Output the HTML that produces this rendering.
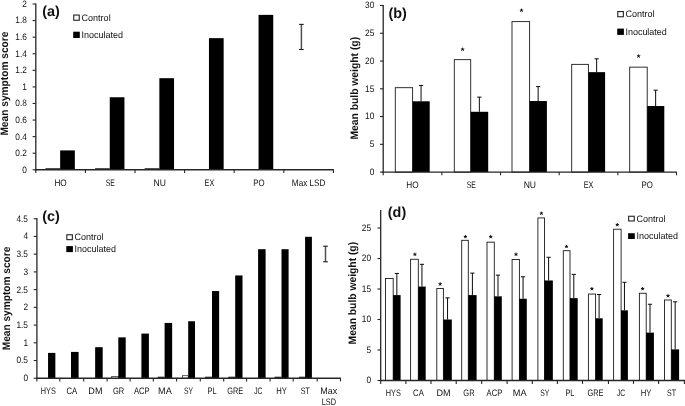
<!DOCTYPE html>
<html><head><meta charset="utf-8"><title>Figure</title>
<style>html,body{margin:0;padding:0;background:#fff;}body{width:685px;height:406px;overflow:hidden;}svg{display:block;will-change:transform;font-family:"Liberation Sans",sans-serif;fill:#111;text-rendering:geometricPrecision;}</style></head>
<body>
<svg width="685" height="406" viewBox="0 0 685 406">
<rect x="0" y="0" width="685" height="406" fill="#fff"/>
<rect x="45.45" y="168.25" width="14.70" height="1.20" fill="#1a1a1a"/>
<rect x="60.15" y="150.40" width="14.70" height="19.40" fill="#000"/>
<rect x="95.05" y="168.25" width="14.70" height="1.20" fill="#1a1a1a"/>
<rect x="109.75" y="97.26" width="14.70" height="72.54" fill="#000"/>
<rect x="144.65" y="168.25" width="14.70" height="1.20" fill="#1a1a1a"/>
<rect x="159.35" y="78.20" width="14.70" height="91.60" fill="#000"/>
<rect x="208.95" y="38.15" width="14.70" height="131.65" fill="#000"/>
<rect x="258.55" y="14.86" width="14.70" height="154.94" fill="#000"/>
<line x1="35.80" y1="3.40" x2="35.80" y2="170.45" stroke="#262626" stroke-width="1.3"/>
<line x1="35.15" y1="169.80" x2="333.90" y2="169.80" stroke="#262626" stroke-width="1.45"/>
<line x1="32.60" y1="169.80" x2="35.80" y2="169.80" stroke="#262626" stroke-width="1.1"/>
<text x="26.90" y="172.70" text-anchor="end" font-size="9.4" textLength="4.62" lengthAdjust="spacingAndGlyphs">0</text>
<line x1="32.60" y1="153.22" x2="35.80" y2="153.22" stroke="#262626" stroke-width="1.1"/>
<text x="26.90" y="156.12" text-anchor="end" font-size="9.4" textLength="11.55" lengthAdjust="spacingAndGlyphs">0.2</text>
<line x1="32.60" y1="136.64" x2="35.80" y2="136.64" stroke="#262626" stroke-width="1.1"/>
<text x="26.90" y="139.54" text-anchor="end" font-size="9.4" textLength="11.55" lengthAdjust="spacingAndGlyphs">0.4</text>
<line x1="32.60" y1="120.06" x2="35.80" y2="120.06" stroke="#262626" stroke-width="1.1"/>
<text x="26.90" y="122.96" text-anchor="end" font-size="9.4" textLength="11.55" lengthAdjust="spacingAndGlyphs">0.6</text>
<line x1="32.60" y1="103.48" x2="35.80" y2="103.48" stroke="#262626" stroke-width="1.1"/>
<text x="26.90" y="106.38" text-anchor="end" font-size="9.4" textLength="11.55" lengthAdjust="spacingAndGlyphs">0.8</text>
<line x1="32.60" y1="86.90" x2="35.80" y2="86.90" stroke="#262626" stroke-width="1.1"/>
<text x="26.90" y="89.80" text-anchor="end" font-size="9.4" textLength="4.62" lengthAdjust="spacingAndGlyphs">1</text>
<line x1="32.60" y1="70.32" x2="35.80" y2="70.32" stroke="#262626" stroke-width="1.1"/>
<text x="26.90" y="73.22" text-anchor="end" font-size="9.4" textLength="11.55" lengthAdjust="spacingAndGlyphs">1.2</text>
<line x1="32.60" y1="53.74" x2="35.80" y2="53.74" stroke="#262626" stroke-width="1.1"/>
<text x="26.90" y="56.64" text-anchor="end" font-size="9.4" textLength="11.55" lengthAdjust="spacingAndGlyphs">1.4</text>
<line x1="32.60" y1="37.16" x2="35.80" y2="37.16" stroke="#262626" stroke-width="1.1"/>
<text x="26.90" y="40.06" text-anchor="end" font-size="9.4" textLength="11.55" lengthAdjust="spacingAndGlyphs">1.6</text>
<line x1="32.60" y1="20.58" x2="35.80" y2="20.58" stroke="#262626" stroke-width="1.1"/>
<text x="26.90" y="23.48" text-anchor="end" font-size="9.4" textLength="11.55" lengthAdjust="spacingAndGlyphs">1.8</text>
<line x1="32.60" y1="4.00" x2="35.80" y2="4.00" stroke="#262626" stroke-width="1.1"/>
<text x="26.90" y="6.90" text-anchor="end" font-size="9.4" textLength="4.62" lengthAdjust="spacingAndGlyphs">2</text>
<line x1="35.80" y1="169.80" x2="35.80" y2="173.00" stroke="#262626" stroke-width="1.1"/>
<line x1="85.40" y1="169.80" x2="85.40" y2="173.00" stroke="#262626" stroke-width="1.1"/>
<line x1="135.00" y1="169.80" x2="135.00" y2="173.00" stroke="#262626" stroke-width="1.1"/>
<line x1="184.60" y1="169.80" x2="184.60" y2="173.00" stroke="#262626" stroke-width="1.1"/>
<line x1="234.20" y1="169.80" x2="234.20" y2="173.00" stroke="#262626" stroke-width="1.1"/>
<line x1="283.80" y1="169.80" x2="283.80" y2="173.00" stroke="#262626" stroke-width="1.1"/>
<line x1="333.40" y1="169.80" x2="333.40" y2="173.00" stroke="#262626" stroke-width="1.1"/>
<text x="60.60" y="186.00" text-anchor="middle" font-size="9.4" textLength="12.34" lengthAdjust="spacingAndGlyphs">HO</text>
<text x="110.20" y="186.00" text-anchor="middle" font-size="9.4" textLength="9.10" lengthAdjust="spacingAndGlyphs">SE</text>
<text x="159.80" y="186.00" text-anchor="middle" font-size="9.4" textLength="12.36" lengthAdjust="spacingAndGlyphs">NU</text>
<text x="209.40" y="186.00" text-anchor="middle" font-size="9.4" textLength="9.67" lengthAdjust="spacingAndGlyphs">EX</text>
<text x="259.00" y="186.00" text-anchor="middle" font-size="9.4" textLength="11.32" lengthAdjust="spacingAndGlyphs">PO</text>
<text x="308.60" y="186.00" text-anchor="middle" font-size="9.4" textLength="33.49" lengthAdjust="spacingAndGlyphs">Max LSD</text>
<line x1="301.40" y1="24.40" x2="301.40" y2="49.50" stroke="#505050" stroke-width="1.5"/>
<line x1="299.10" y1="24.40" x2="303.70" y2="24.40" stroke="#1a1a1a" stroke-width="1.1"/>
<line x1="299.10" y1="49.50" x2="303.70" y2="49.50" stroke="#1a1a1a" stroke-width="1.1"/>
<text x="42.30" y="16.45" font-size="14.4" font-weight="bold">(a)</text>
<rect x="73.75" y="15.05" width="5.50" height="5.20" fill="#fff" stroke="#222" stroke-width="1.1"/>
<text x="81.60" y="20.70" text-anchor="start" font-size="9.4" textLength="29.05" lengthAdjust="spacingAndGlyphs">Control</text>
<rect x="73.20" y="31.70" width="6.60" height="6.30" fill="#000"/>
<text x="81.60" y="37.90" text-anchor="start" font-size="9.4" textLength="41.47" lengthAdjust="spacingAndGlyphs">Inoculated</text>
<text transform="translate(8.20,135.60) rotate(-90)" font-size="10.8" font-weight="bold" textLength="104.00" lengthAdjust="spacingAndGlyphs">Mean symptom score</text>
<rect x="395.30" y="87.69" width="17.30" height="84.41" fill="#fff" stroke="#1a1a1a" stroke-width="0.9"/>
<rect x="412.60" y="101.30" width="17.10" height="70.80" fill="#000"/>
<line x1="421.05" y1="101.30" x2="421.05" y2="85.47" stroke="#0a0a0a" stroke-width="1.0"/>
<line x1="418.95" y1="85.47" x2="423.15" y2="85.47" stroke="#0a0a0a" stroke-width="1.0"/>
<rect x="454.30" y="59.65" width="16.40" height="112.45" fill="#fff" stroke="#1a1a1a" stroke-width="0.9"/>
<rect x="470.70" y="111.79" width="17.50" height="60.31" fill="#000"/>
<line x1="479.35" y1="111.79" x2="479.35" y2="97.13" stroke="#0a0a0a" stroke-width="1.0"/>
<line x1="477.25" y1="97.13" x2="481.45" y2="97.13" stroke="#0a0a0a" stroke-width="1.0"/>
<path d="M462.60 49.40L462.60 48.05M462.60 49.40L463.88 48.98M462.60 49.40L463.39 50.49M462.60 49.40L461.81 50.49M462.60 49.40L461.32 48.98" stroke="#111" stroke-width="1.0" stroke-linecap="round" fill="none"/>
<rect x="512.00" y="21.61" width="17.60" height="150.49" fill="#fff" stroke="#1a1a1a" stroke-width="0.9"/>
<rect x="529.60" y="101.02" width="17.30" height="71.08" fill="#000"/>
<line x1="538.15" y1="101.02" x2="538.15" y2="86.58" stroke="#0a0a0a" stroke-width="1.0"/>
<line x1="536.05" y1="86.58" x2="540.25" y2="86.58" stroke="#0a0a0a" stroke-width="1.0"/>
<path d="M521.50 10.40L521.50 9.05M521.50 10.40L522.78 9.98M521.50 10.40L522.29 11.49M521.50 10.40L520.71 11.49M521.50 10.40L520.22 9.98" stroke="#111" stroke-width="1.0" stroke-linecap="round" fill="none"/>
<rect x="571.70" y="64.37" width="16.70" height="107.73" fill="#fff" stroke="#1a1a1a" stroke-width="0.9"/>
<rect x="588.40" y="72.15" width="16.70" height="99.95" fill="#000"/>
<line x1="596.65" y1="72.15" x2="596.65" y2="58.82" stroke="#0a0a0a" stroke-width="1.0"/>
<line x1="594.55" y1="58.82" x2="598.75" y2="58.82" stroke="#0a0a0a" stroke-width="1.0"/>
<rect x="629.70" y="67.15" width="17.50" height="104.95" fill="#fff" stroke="#1a1a1a" stroke-width="0.9"/>
<rect x="647.20" y="106.02" width="17.10" height="66.08" fill="#000"/>
<line x1="655.65" y1="106.02" x2="655.65" y2="90.19" stroke="#0a0a0a" stroke-width="1.0"/>
<line x1="653.55" y1="90.19" x2="657.75" y2="90.19" stroke="#0a0a0a" stroke-width="1.0"/>
<path d="M638.60 56.20L638.60 54.85M638.60 56.20L639.88 55.78M638.60 56.20L639.39 57.29M638.60 56.20L637.81 57.29M638.60 56.20L637.32 55.78" stroke="#111" stroke-width="1.0" stroke-linecap="round" fill="none"/>
<line x1="383.20" y1="4.91" x2="383.20" y2="172.75" stroke="#262626" stroke-width="1.3"/>
<line x1="382.55" y1="172.10" x2="677.00" y2="172.10" stroke="#262626" stroke-width="1.45"/>
<line x1="380.00" y1="172.10" x2="383.20" y2="172.10" stroke="#262626" stroke-width="1.1"/>
<text x="374.30" y="175.00" text-anchor="end" font-size="9.4" textLength="4.62" lengthAdjust="spacingAndGlyphs">0</text>
<line x1="380.00" y1="144.33" x2="383.20" y2="144.33" stroke="#262626" stroke-width="1.1"/>
<text x="374.30" y="147.23" text-anchor="end" font-size="9.4" textLength="4.62" lengthAdjust="spacingAndGlyphs">5</text>
<line x1="380.00" y1="116.57" x2="383.20" y2="116.57" stroke="#262626" stroke-width="1.1"/>
<text x="374.30" y="119.47" text-anchor="end" font-size="9.4" textLength="9.24" lengthAdjust="spacingAndGlyphs">10</text>
<line x1="380.00" y1="88.80" x2="383.20" y2="88.80" stroke="#262626" stroke-width="1.1"/>
<text x="374.30" y="91.70" text-anchor="end" font-size="9.4" textLength="9.24" lengthAdjust="spacingAndGlyphs">15</text>
<line x1="380.00" y1="61.04" x2="383.20" y2="61.04" stroke="#262626" stroke-width="1.1"/>
<text x="374.30" y="63.94" text-anchor="end" font-size="9.4" textLength="9.24" lengthAdjust="spacingAndGlyphs">20</text>
<line x1="380.00" y1="33.28" x2="383.20" y2="33.28" stroke="#262626" stroke-width="1.1"/>
<text x="374.30" y="36.18" text-anchor="end" font-size="9.4" textLength="9.24" lengthAdjust="spacingAndGlyphs">25</text>
<line x1="380.00" y1="5.51" x2="383.20" y2="5.51" stroke="#262626" stroke-width="1.1"/>
<text x="374.30" y="8.41" text-anchor="end" font-size="9.4" textLength="9.24" lengthAdjust="spacingAndGlyphs">30</text>
<line x1="383.20" y1="172.10" x2="383.20" y2="175.30" stroke="#262626" stroke-width="1.1"/>
<line x1="441.86" y1="172.10" x2="441.86" y2="175.30" stroke="#262626" stroke-width="1.1"/>
<line x1="500.52" y1="172.10" x2="500.52" y2="175.30" stroke="#262626" stroke-width="1.1"/>
<line x1="559.18" y1="172.10" x2="559.18" y2="175.30" stroke="#262626" stroke-width="1.1"/>
<line x1="617.84" y1="172.10" x2="617.84" y2="175.30" stroke="#262626" stroke-width="1.1"/>
<line x1="676.50" y1="172.10" x2="676.50" y2="175.30" stroke="#262626" stroke-width="1.1"/>
<text x="412.53" y="188.20" text-anchor="middle" font-size="9.4" textLength="12.34" lengthAdjust="spacingAndGlyphs">HO</text>
<text x="471.19" y="188.20" text-anchor="middle" font-size="9.4" textLength="9.10" lengthAdjust="spacingAndGlyphs">SE</text>
<text x="529.85" y="188.20" text-anchor="middle" font-size="9.4" textLength="12.36" lengthAdjust="spacingAndGlyphs">NU</text>
<text x="588.51" y="188.20" text-anchor="middle" font-size="9.4" textLength="9.67" lengthAdjust="spacingAndGlyphs">EX</text>
<text x="647.17" y="188.20" text-anchor="middle" font-size="9.4" textLength="11.32" lengthAdjust="spacingAndGlyphs">PO</text>
<text x="388.50" y="17.50" font-size="14.4" font-weight="bold">(b)</text>
<rect x="617.75" y="11.55" width="5.60" height="5.20" fill="#fff" stroke="#222" stroke-width="1.1"/>
<text x="625.40" y="16.95" text-anchor="start" font-size="9.4" textLength="29.05" lengthAdjust="spacingAndGlyphs">Control</text>
<rect x="617.20" y="28.60" width="6.70" height="6.30" fill="#000"/>
<text x="625.40" y="34.50" text-anchor="start" font-size="9.4" textLength="41.47" lengthAdjust="spacingAndGlyphs">Inoculated</text>
<text transform="translate(358.20,139.60) rotate(-90)" font-size="10.8" font-weight="bold" textLength="102.70" lengthAdjust="spacingAndGlyphs">Mean bulb weight (g)</text>
<rect x="48.05" y="352.90" width="7.30" height="25.35" fill="#000"/>
<rect x="71.00" y="351.91" width="7.60" height="26.34" fill="#000"/>
<rect x="95.15" y="347.20" width="7.55" height="31.05" fill="#000"/>
<rect x="111.70" y="376.42" width="6.60" height="1.83" fill="#fff" stroke="#222" stroke-width="0.7"/>
<rect x="118.30" y="337.38" width="7.40" height="40.87" fill="#000"/>
<rect x="141.40" y="333.58" width="7.50" height="44.67" fill="#000"/>
<rect x="157.70" y="376.70" width="6.90" height="1.20" fill="#1a1a1a"/>
<rect x="164.60" y="322.95" width="7.55" height="55.30" fill="#000"/>
<rect x="182.50" y="375.71" width="5.70" height="2.54" fill="#fff" stroke="#222" stroke-width="0.7"/>
<rect x="188.20" y="321.25" width="6.80" height="57.00" fill="#000"/>
<rect x="205.10" y="376.70" width="6.90" height="1.20" fill="#1a1a1a"/>
<rect x="212.00" y="291.04" width="7.15" height="87.21" fill="#000"/>
<rect x="228.30" y="376.70" width="6.90" height="1.20" fill="#1a1a1a"/>
<rect x="235.20" y="275.44" width="7.30" height="102.81" fill="#000"/>
<rect x="258.10" y="249.21" width="7.50" height="129.04" fill="#000"/>
<rect x="274.60" y="376.70" width="6.90" height="1.20" fill="#1a1a1a"/>
<rect x="281.50" y="249.21" width="7.10" height="129.04" fill="#000"/>
<rect x="299.10" y="376.70" width="6.00" height="1.20" fill="#1a1a1a"/>
<rect x="305.10" y="236.80" width="6.80" height="141.45" fill="#000"/>
<line x1="36.90" y1="218.12" x2="36.90" y2="378.90" stroke="#262626" stroke-width="1.3"/>
<line x1="36.25" y1="378.25" x2="340.90" y2="378.25" stroke="#262626" stroke-width="1.45"/>
<line x1="33.70" y1="378.25" x2="36.90" y2="378.25" stroke="#262626" stroke-width="1.1"/>
<text x="28.00" y="381.15" text-anchor="end" font-size="9.4" textLength="4.62" lengthAdjust="spacingAndGlyphs">0</text>
<line x1="33.70" y1="360.52" x2="36.90" y2="360.52" stroke="#262626" stroke-width="1.1"/>
<text x="28.00" y="363.42" text-anchor="end" font-size="9.4" textLength="11.55" lengthAdjust="spacingAndGlyphs">0.5</text>
<line x1="33.70" y1="342.80" x2="36.90" y2="342.80" stroke="#262626" stroke-width="1.1"/>
<text x="28.00" y="345.70" text-anchor="end" font-size="9.4" textLength="4.62" lengthAdjust="spacingAndGlyphs">1</text>
<line x1="33.70" y1="325.07" x2="36.90" y2="325.07" stroke="#262626" stroke-width="1.1"/>
<text x="28.00" y="327.97" text-anchor="end" font-size="9.4" textLength="11.55" lengthAdjust="spacingAndGlyphs">1.5</text>
<line x1="33.70" y1="307.35" x2="36.90" y2="307.35" stroke="#262626" stroke-width="1.1"/>
<text x="28.00" y="310.25" text-anchor="end" font-size="9.4" textLength="4.62" lengthAdjust="spacingAndGlyphs">2</text>
<line x1="33.70" y1="289.62" x2="36.90" y2="289.62" stroke="#262626" stroke-width="1.1"/>
<text x="28.00" y="292.52" text-anchor="end" font-size="9.4" textLength="11.55" lengthAdjust="spacingAndGlyphs">2.5</text>
<line x1="33.70" y1="271.90" x2="36.90" y2="271.90" stroke="#262626" stroke-width="1.1"/>
<text x="28.00" y="274.80" text-anchor="end" font-size="9.4" textLength="4.62" lengthAdjust="spacingAndGlyphs">3</text>
<line x1="33.70" y1="254.17" x2="36.90" y2="254.17" stroke="#262626" stroke-width="1.1"/>
<text x="28.00" y="257.07" text-anchor="end" font-size="9.4" textLength="11.55" lengthAdjust="spacingAndGlyphs">3.5</text>
<line x1="33.70" y1="236.45" x2="36.90" y2="236.45" stroke="#262626" stroke-width="1.1"/>
<text x="28.00" y="239.35" text-anchor="end" font-size="9.4" textLength="4.62" lengthAdjust="spacingAndGlyphs">4</text>
<line x1="33.70" y1="218.72" x2="36.90" y2="218.72" stroke="#262626" stroke-width="1.1"/>
<text x="28.00" y="221.62" text-anchor="end" font-size="9.4" textLength="11.55" lengthAdjust="spacingAndGlyphs">4.5</text>
<line x1="36.90" y1="378.25" x2="36.90" y2="381.45" stroke="#262626" stroke-width="1.1"/>
<line x1="59.80" y1="378.25" x2="59.80" y2="381.45" stroke="#262626" stroke-width="1.1"/>
<line x1="83.70" y1="378.25" x2="83.70" y2="381.45" stroke="#262626" stroke-width="1.1"/>
<line x1="107.10" y1="378.25" x2="107.10" y2="381.45" stroke="#262626" stroke-width="1.1"/>
<line x1="130.10" y1="378.25" x2="130.10" y2="381.45" stroke="#262626" stroke-width="1.1"/>
<line x1="153.30" y1="378.25" x2="153.30" y2="381.45" stroke="#262626" stroke-width="1.1"/>
<line x1="176.60" y1="378.25" x2="176.60" y2="381.45" stroke="#262626" stroke-width="1.1"/>
<line x1="200.30" y1="378.25" x2="200.30" y2="381.45" stroke="#262626" stroke-width="1.1"/>
<line x1="223.70" y1="378.25" x2="223.70" y2="381.45" stroke="#262626" stroke-width="1.1"/>
<line x1="246.60" y1="378.25" x2="246.60" y2="381.45" stroke="#262626" stroke-width="1.1"/>
<line x1="270.10" y1="378.25" x2="270.10" y2="381.45" stroke="#262626" stroke-width="1.1"/>
<line x1="293.20" y1="378.25" x2="293.20" y2="381.45" stroke="#262626" stroke-width="1.1"/>
<line x1="317.20" y1="378.25" x2="317.20" y2="381.45" stroke="#262626" stroke-width="1.1"/>
<line x1="340.50" y1="378.25" x2="340.50" y2="381.45" stroke="#262626" stroke-width="1.1"/>
<text x="48.35" y="394.40" text-anchor="middle" font-size="9.4" textLength="15.07" lengthAdjust="spacingAndGlyphs">HYS</text>
<text x="71.75" y="394.40" text-anchor="middle" font-size="9.4" textLength="10.67" lengthAdjust="spacingAndGlyphs">CA</text>
<text x="95.40" y="394.40" text-anchor="middle" font-size="9.4" textLength="14.11" lengthAdjust="spacingAndGlyphs">DM</text>
<text x="118.60" y="394.40" text-anchor="middle" font-size="9.4" textLength="11.27" lengthAdjust="spacingAndGlyphs">GR</text>
<text x="141.70" y="394.40" text-anchor="middle" font-size="9.4" textLength="15.63" lengthAdjust="spacingAndGlyphs">ACP</text>
<text x="164.95" y="394.40" text-anchor="middle" font-size="9.4" textLength="13.76" lengthAdjust="spacingAndGlyphs">MA</text>
<text x="188.45" y="394.40" text-anchor="middle" font-size="9.4" textLength="9.09" lengthAdjust="spacingAndGlyphs">SY</text>
<text x="212.00" y="394.40" text-anchor="middle" font-size="9.4" textLength="9.00" lengthAdjust="spacingAndGlyphs">PL</text>
<text x="235.15" y="394.40" text-anchor="middle" font-size="9.4" textLength="15.96" lengthAdjust="spacingAndGlyphs">GRE</text>
<text x="258.35" y="394.40" text-anchor="middle" font-size="9.4" textLength="8.18" lengthAdjust="spacingAndGlyphs">JC</text>
<text x="281.65" y="394.40" text-anchor="middle" font-size="9.4" textLength="10.66" lengthAdjust="spacingAndGlyphs">HY</text>
<text x="305.20" y="394.40" text-anchor="middle" font-size="9.4" textLength="9.09" lengthAdjust="spacingAndGlyphs">ST</text>
<text x="328.85" y="394.40" text-anchor="middle" font-size="9.4" textLength="16.96" lengthAdjust="spacingAndGlyphs">Max</text>
<text x="328.85" y="405.20" text-anchor="middle" font-size="9.4" textLength="14.35" lengthAdjust="spacingAndGlyphs">LSD</text>
<line x1="325.50" y1="246.20" x2="325.50" y2="261.80" stroke="#505050" stroke-width="1.5"/>
<line x1="323.20" y1="246.20" x2="327.80" y2="246.20" stroke="#1a1a1a" stroke-width="1.1"/>
<line x1="323.20" y1="261.80" x2="327.80" y2="261.80" stroke="#1a1a1a" stroke-width="1.1"/>
<text x="42.30" y="221.00" font-size="14.4" font-weight="bold">(c)</text>
<rect x="66.85" y="234.75" width="5.50" height="4.90" fill="#fff" stroke="#222" stroke-width="1.1"/>
<text x="74.55" y="239.85" text-anchor="start" font-size="9.4" textLength="29.05" lengthAdjust="spacingAndGlyphs">Control</text>
<rect x="66.30" y="246.10" width="6.60" height="6.00" fill="#000"/>
<text x="74.55" y="252.00" text-anchor="start" font-size="9.4" textLength="41.47" lengthAdjust="spacingAndGlyphs">Inoculated</text>
<text transform="translate(9.80,350.30) rotate(-90)" font-size="10.8" font-weight="bold" textLength="103.70" lengthAdjust="spacingAndGlyphs">Mean symptom score</text>
<rect x="385.50" y="278.45" width="7.70" height="102.05" fill="#fff" stroke="#1a1a1a" stroke-width="0.9"/>
<rect x="393.10" y="295.10" width="7.50" height="85.40" fill="#000"/>
<line x1="396.85" y1="295.10" x2="396.85" y2="273.44" stroke="#0a0a0a" stroke-width="1.0"/>
<line x1="394.75" y1="273.44" x2="398.95" y2="273.44" stroke="#0a0a0a" stroke-width="1.0"/>
<rect x="410.60" y="259.29" width="7.70" height="121.21" fill="#fff" stroke="#1a1a1a" stroke-width="0.9"/>
<rect x="418.20" y="286.56" width="7.50" height="93.94" fill="#000"/>
<line x1="421.95" y1="286.56" x2="421.95" y2="264.30" stroke="#0a0a0a" stroke-width="1.0"/>
<line x1="419.85" y1="264.30" x2="424.05" y2="264.30" stroke="#0a0a0a" stroke-width="1.0"/>
<path d="M414.90 254.40L414.90 253.05M414.90 254.40L416.18 253.98M414.90 254.40L415.69 255.49M414.90 254.40L414.11 255.49M414.90 254.40L413.62 253.98" stroke="#111" stroke-width="1.0" stroke-linecap="round" fill="none"/>
<rect x="436.80" y="288.51" width="6.60" height="91.99" fill="#fff" stroke="#1a1a1a" stroke-width="0.9"/>
<rect x="443.30" y="319.50" width="8.50" height="61.00" fill="#000"/>
<line x1="447.55" y1="319.50" x2="447.55" y2="297.85" stroke="#0a0a0a" stroke-width="1.0"/>
<line x1="445.45" y1="297.85" x2="449.65" y2="297.85" stroke="#0a0a0a" stroke-width="1.0"/>
<path d="M440.20 284.10L440.20 282.75M440.20 284.10L441.48 283.68M440.20 284.10L440.99 285.19M440.20 284.10L439.41 285.19M440.20 284.10L438.92 283.68" stroke="#111" stroke-width="1.0" stroke-linecap="round" fill="none"/>
<rect x="461.70" y="240.32" width="6.60" height="140.18" fill="#fff" stroke="#1a1a1a" stroke-width="0.9"/>
<rect x="468.20" y="295.10" width="8.40" height="85.40" fill="#000"/>
<line x1="472.40" y1="295.10" x2="472.40" y2="273.14" stroke="#0a0a0a" stroke-width="1.0"/>
<line x1="470.30" y1="273.14" x2="474.50" y2="273.14" stroke="#0a0a0a" stroke-width="1.0"/>
<path d="M465.40 236.80L465.40 235.45M465.40 236.80L466.68 236.38M465.40 236.80L466.19 237.89M465.40 236.80L464.61 237.89M465.40 236.80L464.12 236.38" stroke="#111" stroke-width="1.0" stroke-linecap="round" fill="none"/>
<rect x="487.00" y="242.15" width="7.30" height="138.35" fill="#fff" stroke="#1a1a1a" stroke-width="0.9"/>
<rect x="494.20" y="296.32" width="7.60" height="84.18" fill="#000"/>
<line x1="498.00" y1="296.32" x2="498.00" y2="275.15" stroke="#0a0a0a" stroke-width="1.0"/>
<line x1="495.90" y1="275.15" x2="500.10" y2="275.15" stroke="#0a0a0a" stroke-width="1.0"/>
<path d="M490.70 236.80L490.70 235.45M490.70 236.80L491.98 236.38M490.70 236.80L491.49 237.89M490.70 236.80L489.91 237.89M490.70 236.80L489.42 236.38" stroke="#111" stroke-width="1.0" stroke-linecap="round" fill="none"/>
<rect x="512.10" y="259.54" width="7.30" height="120.96" fill="#fff" stroke="#1a1a1a" stroke-width="0.9"/>
<rect x="519.30" y="298.76" width="7.50" height="81.74" fill="#000"/>
<line x1="523.05" y1="298.76" x2="523.05" y2="276.80" stroke="#0a0a0a" stroke-width="1.0"/>
<line x1="520.95" y1="276.80" x2="525.15" y2="276.80" stroke="#0a0a0a" stroke-width="1.0"/>
<path d="M516.00 254.40L516.00 253.05M516.00 254.40L517.28 253.98M516.00 254.40L516.79 255.49M516.00 254.40L515.21 255.49M516.00 254.40L514.72 253.98" stroke="#111" stroke-width="1.0" stroke-linecap="round" fill="none"/>
<rect x="537.90" y="217.94" width="6.60" height="162.56" fill="#fff" stroke="#1a1a1a" stroke-width="0.9"/>
<rect x="544.40" y="280.46" width="8.45" height="100.04" fill="#000"/>
<line x1="548.62" y1="280.46" x2="548.62" y2="257.28" stroke="#0a0a0a" stroke-width="1.0"/>
<line x1="546.52" y1="257.28" x2="550.73" y2="257.28" stroke="#0a0a0a" stroke-width="1.0"/>
<path d="M541.40 213.40L541.40 212.05M541.40 213.40L542.68 212.98M541.40 213.40L542.19 214.49M541.40 213.40L540.61 214.49M541.40 213.40L540.12 212.98" stroke="#111" stroke-width="1.0" stroke-linecap="round" fill="none"/>
<rect x="563.30" y="250.69" width="6.70" height="129.81" fill="#fff" stroke="#1a1a1a" stroke-width="0.9"/>
<rect x="569.90" y="298.15" width="7.80" height="82.35" fill="#000"/>
<line x1="573.80" y1="298.15" x2="573.80" y2="274.36" stroke="#0a0a0a" stroke-width="1.0"/>
<line x1="571.70" y1="274.36" x2="575.90" y2="274.36" stroke="#0a0a0a" stroke-width="1.0"/>
<path d="M566.50 246.60L566.50 245.25M566.50 246.60L567.78 246.18M566.50 246.60L567.29 247.69M566.50 246.60L565.71 247.69M566.50 246.60L565.22 246.18" stroke="#111" stroke-width="1.0" stroke-linecap="round" fill="none"/>
<rect x="588.40" y="294.06" width="7.20" height="86.44" fill="#fff" stroke="#1a1a1a" stroke-width="0.9"/>
<rect x="595.50" y="318.28" width="7.20" height="62.22" fill="#000"/>
<line x1="599.10" y1="318.28" x2="599.10" y2="294.49" stroke="#0a0a0a" stroke-width="1.0"/>
<line x1="597.00" y1="294.49" x2="601.20" y2="294.49" stroke="#0a0a0a" stroke-width="1.0"/>
<path d="M591.90 288.80L591.90 287.45M591.90 288.80L593.18 288.38M591.90 288.80L592.69 289.89M591.90 288.80L591.11 289.89M591.90 288.80L590.62 288.38" stroke="#111" stroke-width="1.0" stroke-linecap="round" fill="none"/>
<rect x="613.60" y="229.22" width="7.50" height="151.28" fill="#fff" stroke="#1a1a1a" stroke-width="0.9"/>
<rect x="621.00" y="310.35" width="6.90" height="70.15" fill="#000"/>
<line x1="624.45" y1="310.35" x2="624.45" y2="282.29" stroke="#0a0a0a" stroke-width="1.0"/>
<line x1="622.35" y1="282.29" x2="626.55" y2="282.29" stroke="#0a0a0a" stroke-width="1.0"/>
<path d="M617.30 224.80L617.30 223.45M617.30 224.80L618.58 224.38M617.30 224.80L618.09 225.89M617.30 224.80L616.51 225.89M617.30 224.80L616.02 224.38" stroke="#111" stroke-width="1.0" stroke-linecap="round" fill="none"/>
<rect x="639.40" y="293.27" width="6.80" height="87.23" fill="#fff" stroke="#1a1a1a" stroke-width="0.9"/>
<rect x="646.10" y="332.62" width="7.80" height="47.88" fill="#000"/>
<line x1="650.00" y1="332.62" x2="650.00" y2="304.25" stroke="#0a0a0a" stroke-width="1.0"/>
<line x1="647.90" y1="304.25" x2="652.10" y2="304.25" stroke="#0a0a0a" stroke-width="1.0"/>
<path d="M642.60 288.80L642.60 287.45M642.60 288.80L643.88 288.38M642.60 288.80L643.39 289.89M642.60 288.80L641.81 289.89M642.60 288.80L641.32 288.38" stroke="#111" stroke-width="1.0" stroke-linecap="round" fill="none"/>
<rect x="664.50" y="299.98" width="6.80" height="80.52" fill="#fff" stroke="#1a1a1a" stroke-width="0.9"/>
<rect x="671.20" y="349.39" width="7.90" height="31.11" fill="#000"/>
<line x1="675.15" y1="349.39" x2="675.15" y2="301.81" stroke="#0a0a0a" stroke-width="1.0"/>
<line x1="673.05" y1="301.81" x2="677.25" y2="301.81" stroke="#0a0a0a" stroke-width="1.0"/>
<path d="M668.00 295.90L668.00 294.55M668.00 295.90L669.28 295.48M668.00 295.90L668.79 296.99M668.00 295.90L667.21 296.99M668.00 295.90L666.72 295.48" stroke="#111" stroke-width="1.0" stroke-linecap="round" fill="none"/>
<line x1="380.70" y1="210.00" x2="380.70" y2="381.15" stroke="#262626" stroke-width="1.3"/>
<line x1="380.05" y1="380.50" x2="684.90" y2="380.50" stroke="#262626" stroke-width="1.45"/>
<line x1="377.50" y1="380.50" x2="380.70" y2="380.50" stroke="#262626" stroke-width="1.1"/>
<text x="371.10" y="383.40" text-anchor="end" font-size="9.4" textLength="4.62" lengthAdjust="spacingAndGlyphs">0</text>
<line x1="377.50" y1="350.00" x2="380.70" y2="350.00" stroke="#262626" stroke-width="1.1"/>
<text x="371.10" y="352.90" text-anchor="end" font-size="9.4" textLength="4.62" lengthAdjust="spacingAndGlyphs">5</text>
<line x1="377.50" y1="319.50" x2="380.70" y2="319.50" stroke="#262626" stroke-width="1.1"/>
<text x="371.10" y="322.40" text-anchor="end" font-size="9.4" textLength="9.24" lengthAdjust="spacingAndGlyphs">10</text>
<line x1="377.50" y1="289.00" x2="380.70" y2="289.00" stroke="#262626" stroke-width="1.1"/>
<text x="371.10" y="291.90" text-anchor="end" font-size="9.4" textLength="9.24" lengthAdjust="spacingAndGlyphs">15</text>
<line x1="377.50" y1="258.50" x2="380.70" y2="258.50" stroke="#262626" stroke-width="1.1"/>
<text x="371.10" y="261.40" text-anchor="end" font-size="9.4" textLength="9.24" lengthAdjust="spacingAndGlyphs">20</text>
<line x1="377.50" y1="228.00" x2="380.70" y2="228.00" stroke="#262626" stroke-width="1.1"/>
<text x="371.10" y="230.90" text-anchor="end" font-size="9.4" textLength="9.24" lengthAdjust="spacingAndGlyphs">25</text>
<line x1="380.70" y1="380.50" x2="380.70" y2="383.90" stroke="#262626" stroke-width="1.1"/>
<line x1="405.90" y1="380.50" x2="405.90" y2="383.90" stroke="#262626" stroke-width="1.1"/>
<line x1="431.00" y1="380.50" x2="431.00" y2="383.90" stroke="#262626" stroke-width="1.1"/>
<line x1="456.20" y1="380.50" x2="456.20" y2="383.90" stroke="#262626" stroke-width="1.1"/>
<line x1="481.70" y1="380.50" x2="481.70" y2="383.90" stroke="#262626" stroke-width="1.1"/>
<line x1="507.10" y1="380.50" x2="507.10" y2="383.90" stroke="#262626" stroke-width="1.1"/>
<line x1="532.30" y1="380.50" x2="532.30" y2="383.90" stroke="#262626" stroke-width="1.1"/>
<line x1="557.40" y1="380.50" x2="557.40" y2="383.90" stroke="#262626" stroke-width="1.1"/>
<line x1="582.50" y1="380.50" x2="582.50" y2="383.90" stroke="#262626" stroke-width="1.1"/>
<line x1="608.45" y1="380.50" x2="608.45" y2="383.90" stroke="#262626" stroke-width="1.1"/>
<line x1="633.50" y1="380.50" x2="633.50" y2="383.90" stroke="#262626" stroke-width="1.1"/>
<line x1="658.60" y1="380.50" x2="658.60" y2="383.90" stroke="#262626" stroke-width="1.1"/>
<line x1="684.40" y1="380.50" x2="684.40" y2="383.90" stroke="#262626" stroke-width="1.1"/>
<text x="393.30" y="396.40" text-anchor="middle" font-size="9.4" textLength="15.07" lengthAdjust="spacingAndGlyphs">HYS</text>
<text x="418.45" y="396.40" text-anchor="middle" font-size="9.4" textLength="10.67" lengthAdjust="spacingAndGlyphs">CA</text>
<text x="443.60" y="396.40" text-anchor="middle" font-size="9.4" textLength="14.11" lengthAdjust="spacingAndGlyphs">DM</text>
<text x="468.95" y="396.40" text-anchor="middle" font-size="9.4" textLength="11.27" lengthAdjust="spacingAndGlyphs">GR</text>
<text x="494.40" y="396.40" text-anchor="middle" font-size="9.4" textLength="15.63" lengthAdjust="spacingAndGlyphs">ACP</text>
<text x="519.70" y="396.40" text-anchor="middle" font-size="9.4" textLength="13.76" lengthAdjust="spacingAndGlyphs">MA</text>
<text x="544.85" y="396.40" text-anchor="middle" font-size="9.4" textLength="9.09" lengthAdjust="spacingAndGlyphs">SY</text>
<text x="569.95" y="396.40" text-anchor="middle" font-size="9.4" textLength="9.00" lengthAdjust="spacingAndGlyphs">PL</text>
<text x="595.48" y="396.40" text-anchor="middle" font-size="9.4" textLength="15.96" lengthAdjust="spacingAndGlyphs">GRE</text>
<text x="620.98" y="396.40" text-anchor="middle" font-size="9.4" textLength="8.18" lengthAdjust="spacingAndGlyphs">JC</text>
<text x="646.05" y="396.40" text-anchor="middle" font-size="9.4" textLength="10.66" lengthAdjust="spacingAndGlyphs">HY</text>
<text x="671.50" y="396.40" text-anchor="middle" font-size="9.4" textLength="9.09" lengthAdjust="spacingAndGlyphs">ST</text>
<text x="387.80" y="217.10" font-size="14.4" font-weight="bold">(d)</text>
<rect x="628.65" y="216.25" width="5.60" height="4.70" fill="#fff" stroke="#222" stroke-width="1.1"/>
<text x="636.50" y="221.50" text-anchor="start" font-size="9.4" textLength="29.05" lengthAdjust="spacingAndGlyphs">Control</text>
<rect x="628.10" y="233.20" width="6.70" height="5.80" fill="#000"/>
<text x="636.50" y="238.80" text-anchor="start" font-size="9.4" textLength="41.47" lengthAdjust="spacingAndGlyphs">Inoculated</text>
<text transform="translate(356.20,344.40) rotate(-90)" font-size="10.8" font-weight="bold" textLength="102.50" lengthAdjust="spacingAndGlyphs">Mean bulb weight (g)</text>
</svg>
</body></html>
